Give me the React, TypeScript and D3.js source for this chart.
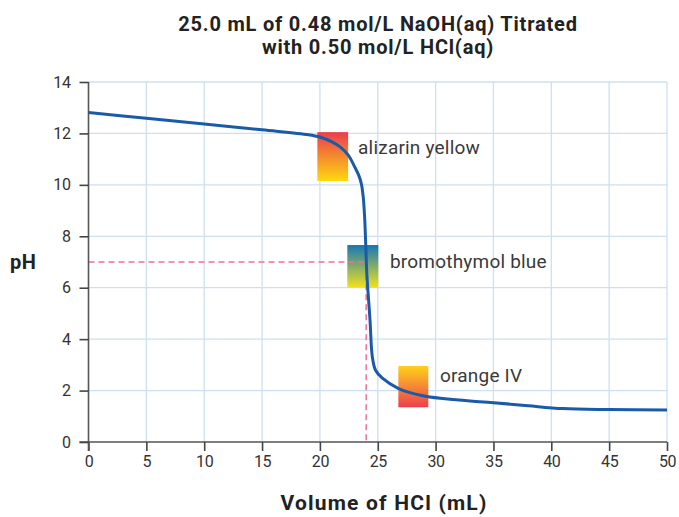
import React, { useEffect, useRef } from "react";
import * as d3 from "d3";

// curve: volume of HCl (mL) vs pH
const volume = [0, 5, 10, 15, 19, 20, 21, 21.8, 22.45, 23.03, 23.35, 23.58, 23.74, 23.86, 23.96, 24.05, 24.33, 24.53, 24.8, 25.4, 26.8, 28.9, 32, 35, 38, 41, 45, 50];
const ph = [12.81, 12.59, 12.37, 12.14, 11.95, 11.86, 11.68, 11.46, 11.16, 10.68, 10.38, 10.05, 9.55, 8.8, 7.7, 6.6, 4.75, 3.32, 2.8, 2.48, 2.08, 1.8, 1.63, 1.53, 1.41, 1.3, 1.26, 1.24];

const xTicks = [0, 5, 10, 15, 20, 25, 30, 35, 40, 45, 50];
const yTicks = [0, 2, 4, 6, 8, 10, 12, 14];

// indicator boxes: name, x range (mL), pH range, top and bottom colours
const indicatorNames = ["alizarin yellow", "bromothymol blue", "orange IV"];
const indicatorX = [[19.78, 22.44], [22.37, 25.05], [26.78, 29.37]];
const indicatorPh = [[10.15, 12.05], [6.0, 7.66], [1.35, 2.96]];
const indicatorTop = ["#ea3d4e", "#1677b5", "#ffd21a"];
const indicatorBottom = ["#ffd80e", "#f2e21c", "#ec3e4f"];
const labelX = [23.3, 26.06, 30.38];
const labelPh = [11.2, 6.77, 2.35];

const equivalence = { volume: 24, ph: 7 };

const W = 679;
const H = 517;
const m = { left: 88.5, right: 12, top: 82, bottom: 75 };
const font = "Roboto, 'Liberation Sans', sans-serif";

const Chart = () => {
  const ref = useRef<SVGSVGElement>(null);

  useEffect(() => {
    const svg = d3.select(ref.current);
    svg.selectAll("*").remove();

    const x = d3.scaleLinear().domain([0, 50]).range([m.left, W - m.right]);
    const y = d3.scaleLinear().domain([0, 14]).range([H - m.bottom, m.top]);

    const defs = svg.append("defs");
    indicatorNames.forEach((_, i) => {
      const g = defs.append("linearGradient")
        .attr("id", "grad" + i)
        .attr("x1", 0).attr("y1", 0).attr("x2", 0).attr("y2", 1);
      g.append("stop").attr("offset", "0%").attr("stop-color", indicatorTop[i]);
      g.append("stop").attr("offset", "100%").attr("stop-color", indicatorBottom[i]);
    });

    // grid
    svg.append("g").selectAll("line")
      .data(xTicks.slice(1))
      .join("line")
      .attr("x1", d => x(d)).attr("x2", d => x(d))
      .attr("y1", y(0)).attr("y2", y(14))
      .attr("stroke", "#cddff3").attr("stroke-width", 1.3);
    svg.append("g").selectAll("line")
      .data(yTicks.slice(1))
      .join("line")
      .attr("x1", x(0)).attr("x2", x(50))
      .attr("y1", d => y(d)).attr("y2", d => y(d))
      .attr("stroke", "#cddff3").attr("stroke-width", 1.3);

    // indicator boxes
    svg.append("g").selectAll("rect")
      .data(indicatorNames)
      .join("rect")
      .attr("x", (_, i) => x(indicatorX[i][0]))
      .attr("width", (_, i) => x(indicatorX[i][1]) - x(indicatorX[i][0]))
      .attr("y", (_, i) => y(indicatorPh[i][1]))
      .attr("height", (_, i) => y(indicatorPh[i][0]) - y(indicatorPh[i][1]))
      .attr("fill", (_, i) => `url(#grad${i})`);

    svg.append("g").selectAll("text")
      .data(indicatorNames)
      .join("text")
      .attr("x", (_, i) => x(labelX[i]))
      .attr("y", (_, i) => y(labelPh[i]))
      .attr("font-family", font)
      .attr("font-size", 19)
      .attr("letter-spacing", 0.2)
      .attr("fill", "#3a3a3a")
      .text(d => d);

    // equivalence point dashes
    svg.append("path")
      .attr("d", `M${x(0)},${y(equivalence.ph)}H${x(equivalence.volume)}V${y(0)}`)
      .attr("fill", "none")
      .attr("stroke", "#ef6f95")
      .attr("stroke-width", 1.5)
      .attr("stroke-dasharray", "6,4");

    // axes
    const xAxis = svg.append("g")
      .attr("transform", `translate(0,${y(0)})`)
      .call(d3.axisBottom(x).tickValues(xTicks).tickSize(9).tickSizeOuter(0));
    const yAxis = svg.append("g")
      .attr("transform", `translate(${x(0)},0)`)
      .call(d3.axisLeft(y).tickValues(yTicks).tickSize(9).tickSizeOuter(0));
    [xAxis, yAxis].forEach(a => {
      a.select(".domain").attr("stroke", "#555").attr("stroke-width", 1.6);
      a.selectAll(".tick line").attr("stroke", "#444").attr("stroke-width", 1.6);
      a.selectAll(".tick text")
        .attr("font-family", font)
        .attr("font-size", 16)
        .attr("letter-spacing", -0.4)
        .attr("fill", "#333");
    });
    xAxis.select(".domain").attr("d", `M${x(0) - 9},0H${x(50)}`);
    yAxis.select(".domain").attr("d", `M0,${y(0) + 9}V${y(14)}`);
    xAxis.selectAll(".tick text").attr("y", 14).attr("dy", "0.71em");
    yAxis.selectAll(".tick text").attr("x", -18);

    // titration curve
    const pts = volume.map((v, i) => [v, ph[i]] as [number, number]);
    const line = d3.line<[number, number]>()
      .x(d => x(d[0]))
      .y(d => y(d[1]))
      .curve(d3.curveCatmullRom.alpha(0.5));
    svg.append("path")
      .attr("d", line(pts))
      .attr("fill", "none")
      .attr("stroke", "#1a5ba8")
      .attr("stroke-width", 3);

    // titles
    const title = svg.append("text")
      .attr("text-anchor", "middle")
      .attr("font-family", font)
      .attr("font-weight", "bold")
      .attr("font-size", 20)
      .attr("letter-spacing", 0.8)
      .attr("fill", "#222");
    title.append("tspan").attr("x", 378).attr("y", 31).text("25.0 mL of 0.48 mol/L NaOH(aq) Titrated");
    title.append("tspan").attr("x", 378).attr("y", 54).text("with 0.50 mol/L HCl(aq)");

    svg.append("text")
      .attr("x", 10).attr("y", 269)
      .attr("font-family", font)
      .attr("font-weight", "bold")
      .attr("font-size", 20)
      .attr("letter-spacing", 0.5)
      .attr("fill", "#222")
      .text("pH");

    svg.append("text")
      .attr("x", 384).attr("y", 510)
      .attr("text-anchor", "middle")
      .attr("font-family", font)
      .attr("font-weight", "bold")
      .attr("font-size", 21)
      .attr("letter-spacing", 1.2)
      .attr("fill", "#222")
      .text("Volume of HCl (mL)");
  }, []);

  return <svg ref={ref} width={W} height={H} style={{ position: "absolute", left: 0, top: 0, background: "#fff" }} />;
};

export default function App() {
  return <Chart />;
}
